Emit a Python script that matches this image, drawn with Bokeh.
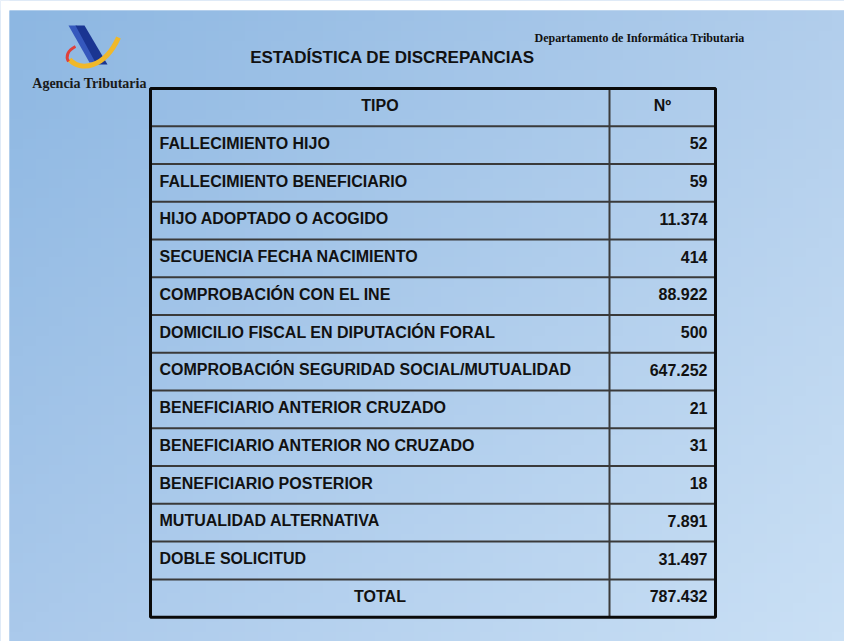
import numpy as np
from bokeh.plotting import figure
from bokeh.models import Range1d
from bokeh.core.properties import value
from bokeh.embed import file_html
from bokeh.resources import INLINE

# ---------------- data ----------------
title = "ESTADÍSTICA DE DISCREPANCIAS"
org_left = "Agencia Tributaria"
org_right = "Departamento de Informática Tributaria"
col_headers = ["TIPO", "Nº"]
tipos = [
    "FALLECIMIENTO HIJO",
    "FALLECIMIENTO BENEFICIARIO",
    "HIJO ADOPTADO O ACOGIDO",
    "SECUENCIA FECHA NACIMIENTO",
    "COMPROBACIÓN CON EL INE",
    "DOMICILIO FISCAL EN DIPUTACIÓN FORAL",
    "COMPROBACIÓN SEGURIDAD SOCIAL/MUTUALIDAD",
    "BENEFICIARIO ANTERIOR CRUZADO",
    "BENEFICIARIO ANTERIOR NO CRUZADO",
    "BENEFICIARIO POSTERIOR",
    "MUTUALIDAD ALTERNATIVA",
    "DOBLE SOLICITUD",
]
valores = [52, 59, 11374, 414, 88922, 500, 647252, 21, 31, 18, 7891, 31497]
total_label = "TOTAL"
total_valor = 787432


def fmt(v):
    return f"{v:,}".replace(",", ".")


# ---------------- layout ----------------
W, H = 844, 641
p = figure(width=W, height=H, output_backend="svg", toolbar_location=None,
           x_range=Range1d(0, W), y_range=Range1d(-H, 0),
           min_border=0, outline_line_color=None)
p.axis.visible = False
p.grid.visible = False
p.background_fill_color = "#a9c8ea"
p.border_fill_color = "#a9c8ea"

# white frame strips of the original picture (top/left)
p.quad(left=[0], right=[W], top=[0], bottom=[-10], fill_color="white", line_color=None)
p.quad(left=[0], right=[9], top=[0], bottom=[-H], fill_color="white", line_color=None)

# background gradient (top-left darker, bottom-right lighter)
n = 64
tl = np.array([141, 183, 226], float)
tr = np.array([178, 206, 236], float)
bl = np.array([170, 201, 235], float)
br = np.array([202, 224, 245], float)
u = np.linspace(0, 1, n)[None, :, None]
v = np.linspace(0, 1, n)[:, None, None]  # 0 = bottom row
top = tl * (1 - u) + tr * u
bot = bl * (1 - u) + br * u
col = bot * (1 - v) + top * v
img = np.empty((n, n), dtype=np.uint32)
view = img.view(dtype=np.uint8).reshape((n, n, 4))
view[:, :, :3] = col.astype(np.uint8)
view[:, :, 3] = 255
p.image_rgba(image=[img], x=9, y=-H, dw=W - 9, dh=H - 10)

# table geometry
x0, xdiv, x1 = 150, 609, 715
ytop = 88
rh = 37.76
nrows = len(tipos) + 2
ink = "#111111"
font = value("Liberation Sans")
fs = "16px"
boff = 17  # text baseline offset inside a row

# inner horizontal lines
ys = [-(ytop + i * rh) for i in range(1, nrows)]
p.segment(x0=[x0] * len(ys), x1=[x1] * len(ys), y0=ys, y1=ys,
          line_color="#3a3a3a", line_width=2)
# divider
p.segment(x0=[xdiv], x1=[xdiv], y0=[-ytop], y1=[-(ytop + nrows * rh)],
          line_color="#3a3a3a", line_width=2)
# outer border
p.quad(left=[x0], right=[x1], top=[-ytop], bottom=[-(ytop + nrows * rh)],
       fill_color=None, line_color="#0a0a0a", line_width=3)

# header
p.text(x=[(x0 + xdiv) / 2, (xdiv + x1) / 2], y=[-(ytop + boff)] * 2, text=col_headers,
       text_font=font, text_font_style="bold", text_font_size=fs,
       text_align="center", text_baseline="alphabetic", text_color=ink)

# data rows
row_y = [-(ytop + (i + 1) * rh + boff) for i in range(len(tipos))]
p.text(x=[159] * len(tipos), y=row_y, text=tipos,
       text_font=font, text_font_style="bold", text_font_size=fs,
       text_align="left", text_baseline="alphabetic", text_color=ink)
p.text(x=[707] * len(valores), y=row_y, text=[fmt(v) for v in valores],
       text_font=font, text_font_style="bold", text_font_size=fs,
       text_align="right", text_baseline="alphabetic", text_color=ink)

# total row
ty = -(ytop + (nrows - 1) * rh + boff)
p.text(x=[(x0 + xdiv) / 2], y=[ty], text=[total_label],
       text_font=font, text_font_style="bold", text_font_size=fs,
       text_align="center", text_baseline="alphabetic", text_color=ink)
p.text(x=[707], y=[ty], text=[fmt(total_valor)],
       text_font=font, text_font_style="bold", text_font_size=fs,
       text_align="right", text_baseline="alphabetic", text_color=ink)

# title and header texts
p.text(x=[392], y=[-57], text=[title], text_font=font, text_font_style="bold",
       text_font_size="17px", text_align="center", text_baseline="alphabetic",
       text_color=ink)
p.text(x=[639], y=[-37], text=[org_right], text_font=value("Liberation Serif"),
       text_font_style="bold", text_font_size="12px", text_align="center",
       text_baseline="alphabetic", text_color=ink)
p.text(x=[89], y=[-83], text=[org_left], text_font=value("Liberation Serif"),
       text_font_style="bold", text_font_size="14px", text_align="center",
       text_baseline="alphabetic", text_color="#1a1a1a")

# logo
p.patch(x=[68, 76, 97, 89], y=[-25, -25, -62, -62], fill_color="#3558bd", line_color=None)
p.patch(x=[75, 84, 107, 96], y=[-25, -25, -64, -64], fill_color="#1a3592", line_color=None)
p.bezier(x0=[69], y0=[-59], x1=[118], y1=[-37], cx0=[80], cy0=[-71], cx1=[104], cy1=[-68],
         line_color="#f0b82a", line_width=5)
p.bezier(x0=[75], y0=[-46], x1=[68], y1=[-61], cx0=[67], cy0=[-50], cx1=[65], cy1=[-56],
         line_color="#e0403a", line_width=3)

open("out.html", "w").write(file_html(p, INLINE))
